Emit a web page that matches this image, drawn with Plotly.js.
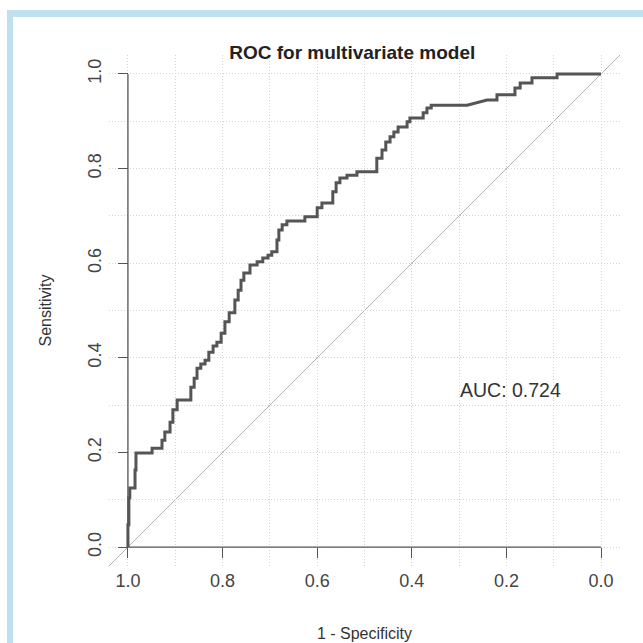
<!DOCTYPE html>
<html>
<head>
<meta charset="utf-8">
<script src="https://cdn.plot.ly/plotly-3.0.1.min.js"></script>
<style>
  html, body { margin: 0; padding: 0; background: #ffffff; }
  #frame { position: absolute; left: 7px; top: 10px; width: 636px; height: 633px;
           border-top: 7px solid #bfe0ee; border-left: 6px solid #bfe0ee; box-sizing: border-box; }
  #chart { position: absolute; left: 0; top: 0; width: 643px; height: 643px; }
</style>
</head>
<body>
<div id="frame"></div>
<div id="chart"></div>
<script>
// ROC curve path (specificity on x, reversed; sensitivity on y)
const specificity = [
  1.000, 1.000, 0.998, 0.998, 0.996, 0.996, 0.985, 0.985, 0.983, 0.983,
  0.949, 0.949, 0.928, 0.928, 0.922, 0.922, 0.911, 0.911, 0.905, 0.905,
  0.896, 0.896, 0.867, 0.867, 0.860, 0.860, 0.854, 0.854, 0.846, 0.846,
  0.837, 0.837, 0.829, 0.829, 0.820, 0.820, 0.812, 0.812, 0.803, 0.803,
  0.795, 0.795, 0.786, 0.786, 0.774, 0.774, 0.767, 0.767, 0.761, 0.761,
  0.755, 0.755, 0.742, 0.742, 0.727, 0.727, 0.715, 0.715, 0.704, 0.704,
  0.696, 0.696, 0.685, 0.685, 0.681, 0.681, 0.674, 0.674, 0.664, 0.664,
  0.626, 0.626, 0.600, 0.600, 0.590, 0.590, 0.567, 0.567, 0.560, 0.560,
  0.552, 0.552, 0.537, 0.537, 0.516, 0.516, 0.474, 0.474, 0.463, 0.463,
  0.455, 0.455, 0.446, 0.446, 0.438, 0.438, 0.429, 0.429, 0.410, 0.410,
  0.404, 0.404, 0.376, 0.376, 0.368, 0.368, 0.359, 0.359, 0.283, 0.241,
  0.220, 0.220, 0.182, 0.182, 0.171, 0.171, 0.146, 0.146, 0.093, 0.093,
  0.000
];
const sensitivity = [
  0.000, 0.047, 0.047, 0.104, 0.104, 0.125, 0.125, 0.163, 0.163, 0.199,
  0.199, 0.209, 0.209, 0.226, 0.226, 0.243, 0.243, 0.264, 0.264, 0.290,
  0.290, 0.311, 0.311, 0.338, 0.338, 0.357, 0.357, 0.378, 0.378, 0.387,
  0.387, 0.395, 0.395, 0.412, 0.412, 0.425, 0.425, 0.433, 0.433, 0.452,
  0.452, 0.476, 0.476, 0.495, 0.495, 0.522, 0.522, 0.543, 0.543, 0.564,
  0.564, 0.579, 0.579, 0.596, 0.596, 0.603, 0.603, 0.611, 0.611, 0.617,
  0.617, 0.624, 0.624, 0.649, 0.649, 0.670, 0.670, 0.681, 0.681, 0.689,
  0.689, 0.698, 0.698, 0.717, 0.717, 0.727, 0.727, 0.751, 0.751, 0.770,
  0.770, 0.780, 0.780, 0.786, 0.786, 0.793, 0.793, 0.822, 0.822, 0.839,
  0.839, 0.856, 0.856, 0.867, 0.867, 0.877, 0.877, 0.888, 0.888, 0.899,
  0.899, 0.907, 0.907, 0.918, 0.918, 0.928, 0.928, 0.934, 0.934, 0.945,
  0.945, 0.956, 0.956, 0.970, 0.970, 0.981, 0.981, 0.992, 0.992, 1.000,
  1.000
];
const tickValues = [0, 0.2, 0.4, 0.6, 0.8, 1.0];
const tickLabels = ["0.0", "0.2", "0.4", "0.6", "0.8", "1.0"];
const aucText = "AUC: 0.724";
const aucPos = [0.303, 0.332];

const font = "Liberation Sans, Arial, Helvetica, sans-serif";
const pad = 0.04;
const axisPos = pad / (1 + 2 * pad);

const traces = [{
  x: specificity, y: sensitivity, type: "scatter", mode: "lines",
  line: { color: "#555555", width: 3 }, hoverinfo: "skip", showlegend: false
}];

const gridStyle = { showgrid: true, gridcolor: "#d4d4d4", griddash: "1px,2px", gridwidth: 1 };

const layout = {
  width: 643, height: 643,
  margin: { l: 109, r: 23, t: 55, b: 77 },
  paper_bgcolor: "rgba(0,0,0,0)", plot_bgcolor: "rgba(0,0,0,0)",
  font: { family: font, size: 16, color: "#333333" },
  title: { text: "<b>ROC for multivariate model</b>", font: { family: font, size: 19, color: "#222222" },
           x: 0.476, xref: "paper", xanchor: "center", y: 1 - 52 / 643, yref: "container", yanchor: "middle" },
  xaxis: Object.assign({
    range: [1 + pad, -pad], autorange: false, anchor: "free", position: axisPos,
    tickmode: "array", tickvals: tickValues, ticktext: tickLabels,
    ticks: "outside", ticklen: 10, tickwidth: 1, tickcolor: "#555555", ticklabelstandoff: 7,
    tickfont: { family: font, size: 18, color: "#444444" },
    showline: false, zeroline: false,
    minor: Object.assign({ dtick: 0.1, tick0: 0 }, gridStyle),
    title: { text: "1 - Specificity", font: { family: font, size: 16, color: "#333333" }, standoff: 38 },
    automargin: false
  }, gridStyle),
  yaxis: Object.assign({
    range: [-pad, 1 + pad], autorange: false, anchor: "free", position: axisPos,
    tickmode: "array", tickvals: tickValues, ticktext: tickLabels, tickangle: -90,
    ticks: "outside", ticklen: 10, tickwidth: 1, tickcolor: "#555555", ticklabelstandoff: 10,
    tickfont: { family: font, size: 18, color: "#444444" },
    showline: false, zeroline: false,
    minor: Object.assign({ dtick: 0.1, tick0: 0 }, gridStyle),
    title: { text: "Sensitivity", font: { family: font, size: 16, color: "#333333" }, standoff: 28 },
    automargin: false
  }, gridStyle),
  shapes: [
    { type: "line", xref: "x", yref: "y", x0: 1 + pad, y0: -pad, x1: -pad, y1: 1 + pad,
      line: { color: "#b0b0b0", width: 1 }, layer: "below" },
    { type: "line", xref: "x", yref: "y", x0: 1, y0: 0, x1: 0, y1: 0,
      line: { color: "#555555", width: 1.3 }, layer: "above" },
    { type: "line", xref: "x", yref: "y", x0: 1, y0: 0, x1: 1, y1: 1,
      line: { color: "#555555", width: 1.3 }, layer: "above" }
  ],
  annotations: [
    { text: aucText, x: aucPos[0], y: aucPos[1], xref: "x", yref: "y",
      xanchor: "left", yanchor: "middle", showarrow: false,
      font: { family: font, size: 19.5, color: "#333333" } }
  ]
};

Plotly.newPlot("chart", traces, layout, { staticPlot: true, displayModeBar: false });
</script>
</body>
</html>
